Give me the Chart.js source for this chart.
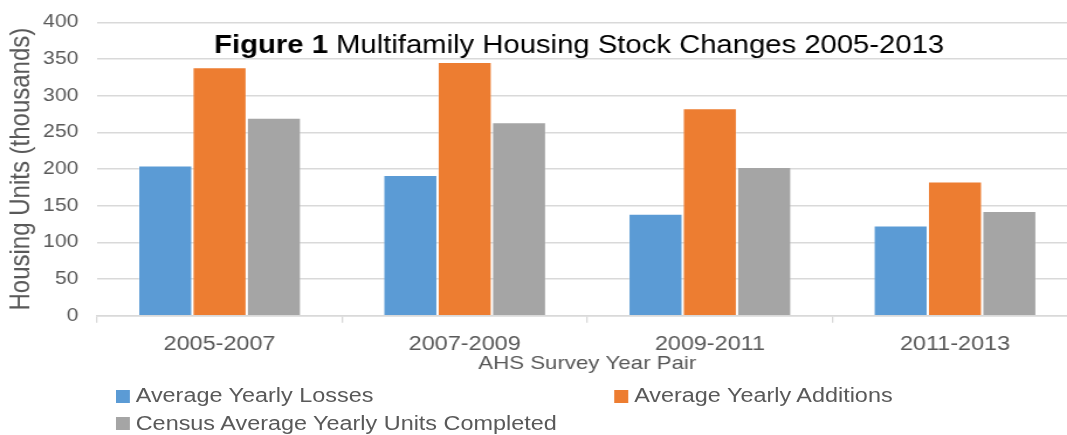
<!DOCTYPE html>
<html>
<head>
<meta charset="utf-8">
<script src="https://cdn.jsdelivr.net/npm/chart.js@4.4.1/dist/chart.umd.min.js"></script>
<style>
  html, body { margin: 0; padding: 0; width: 1067px; height: 435px; overflow: hidden; background: #fff; }
  /* the reference picture is stretched a little sideways, so the whole chart is too */
  #wrap { position: absolute; left: 0; top: 0; width: 921px; height: 435px; transform: scaleX(1.17); transform-origin: 0 0; }
  #legend .sw { position: absolute; width: 12px; height: 13px; }
  #legend .lb { position: absolute; font: 20px 'Liberation Sans', Arial, sans-serif; line-height: 24px; color: #595959; white-space: nowrap; }
</style>
</head>
<body>
<div id="wrap">
  <canvas id="chart" width="921" height="435"></canvas>
  <div id="legend"></div>
</div>
<script>
const categories = ["2005-2007", "2007-2009", "2009-2011", "2011-2013"]
const losses = [205, 192, 139, 123]
const additions = [339, 346, 283, 183]
const completed = [270, 264, 203, 143]
const yMin = 0
const yMax = 400
const yStep = 50

const FONT = "'Liberation Sans', Arial, sans-serif"
const GREY_TEXT = "#595959"
const GRID = "#d9d9d9"
const PLOT_TOP = 22.5

// chart title sits inside the plot, over the gridlines
const titlePlugin = {
  id: "figTitle",
  afterDraw(chart) {
    const ctx = chart.ctx
    const bold = "bold 25px " + FONT
    const normal = "25px " + FONT
    const lead = "Figure 1"
    const rest = " Multifamily Housing Stock Changes 2005-2013"
    ctx.save()
    ctx.font = bold
    const w1 = ctx.measureText(lead).width
    ctx.font = normal
    const w2 = ctx.measureText(rest).width
    const x = 495 - (w1 + w2) / 2
    ctx.fillStyle = "#000"
    ctx.textBaseline = "alphabetic"
    ctx.font = bold
    ctx.fillText(lead, x, 53)
    ctx.font = normal
    ctx.fillText(rest, x + w1, 53)
    ctx.restore()
  }
}

const edge = "rgba(255,255,255,0.25)"
const chart = new Chart(document.getElementById("chart"), {
  type: "bar",
  data: {
    labels: categories,
    datasets: [
      { label: "Average Yearly Losses", data: losses, backgroundColor: "#5b9bd5", borderColor: edge, borderWidth: 1 },
      { label: "Average Yearly Additions", data: additions, backgroundColor: "#ed7d31", borderColor: edge, borderWidth: 1 },
      { label: "Census Average Yearly Units Completed", data: completed, backgroundColor: "#a5a5a5", borderColor: edge, borderWidth: 1 },
    ],
  },
  options: {
    responsive: false,
    animation: false,
    layout: { padding: { top: PLOT_TOP, right: 0, bottom: 0, left: 0 } },
    datasets: { bar: { categoryPercentage: 0.665, barPercentage: 1 } },
    plugins: { legend: { display: false }, tooltip: { enabled: false } },
    scales: {
      x: {
        grid: { drawOnChartArea: false, tickLength: 7, color: GRID, lineWidth: 1.3, offset: true },
        border: { color: GRID, width: 1.5 },
        ticks: { color: GREY_TEXT, font: { family: FONT, size: 20 }, padding: 10 },
        title: { display: true, text: "AHS Survey Year Pair", color: GREY_TEXT, font: { family: FONT, size: 19 }, padding: { top: 0, bottom: 60 } },
        afterFit: (s) => { s.height = 119.3 },
      },
      y: {
        min: yMin,
        max: yMax,
        grid: { color: GRID, lineWidth: 1.5, drawTicks: false },
        border: { display: false },
        ticks: { stepSize: yStep, color: GREY_TEXT, font: { family: FONT, size: 18 }, padding: 16 },
        title: { display: true, text: "Housing Units (thousands)", color: GREY_TEXT, font: { family: FONT, size: 24 }, padding: { top: 4, bottom: 0 } },
        // fixed width, and no extra room of its own above the plot
        afterFit: (s) => { s.width = 82.9; s.paddingTop = PLOT_TOP },
      },
    },
  },
  plugins: [titlePlugin],
})

// legend laid out like the Excel one: two items on the first row, one below
const legendSpots = [[99, 383], [525, 383], [99, 410.5]]
const legend = document.getElementById("legend")
chart.data.datasets.forEach((ds, i) => {
  const [lx, ly] = legendSpots[i]
  const sw = document.createElement("div")
  sw.className = "sw"
  sw.style.left = lx + "px"
  sw.style.top = (ly + 6.5) + "px"
  sw.style.background = ds.backgroundColor
  const lb = document.createElement("div")
  lb.className = "lb"
  lb.style.left = (lx + 17) + "px"
  lb.style.top = ly + "px"
  lb.textContent = ds.label
  legend.appendChild(sw)
  legend.appendChild(lb)
})
</script>
</body>
</html>
